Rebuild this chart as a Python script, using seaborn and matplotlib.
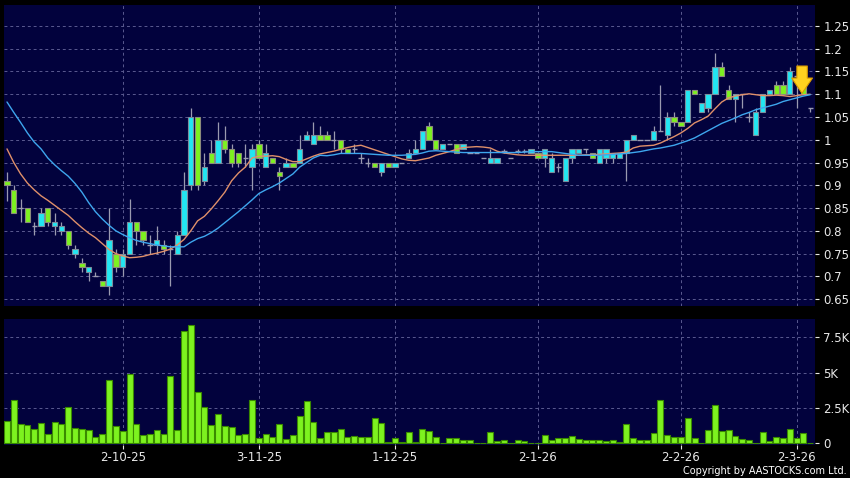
import numpy as np
import pandas as pd
import seaborn as sns
import matplotlib.pyplot as plt
import matplotlib.ticker as ticker

# daily OHLC (trading-day index 0 = first bar on the chart)
opens = [0.91,0.89,0.85,0.85,0.81,0.81,0.85,0.81,0.80,0.80,
         0.75,0.73,0.71,0.70,0.69,0.68,0.75,0.72,0.75,0.82,
         0.80,0.77,0.77,0.77,0.76,0.75,0.79,0.90,1.05,0.91,
         0.97,0.95,1.00,0.98,0.97,0.96,0.94,0.99,0.94,0.96,
         0.93,0.94,0.95,0.95,1.00,0.99,1.01,1.01,1.00,1.00,
         0.98,0.98,0.96,0.95,0.95,0.93,0.95,0.94,0.95,0.96,
         0.97,0.98,1.03,1.00,0.98,0.99,0.99,0.98,0.97,0.97,
         0.96,0.95,0.95,0.975,0.96,0.975,0.975,0.97,0.97,0.96,
         0.93,0.94,0.91,0.96,0.97,0.98,0.97,0.95,0.96,0.96,
         0.96,0.97,1.00,1.00,1.00,1.00,1.02,1.01,1.05,1.04,
         1.04,1.11,1.06,1.07,1.10,1.16,1.11,1.09,1.10,1.05,
         1.01,1.06,1.10,1.12,1.12,1.10,1.14,1.12,1.07]
highs = [0.93,0.90,0.87,0.85,0.82,0.85,0.85,0.84,0.82,0.80,
         0.77,0.74,0.72,0.71,0.69,0.85,0.76,0.76,0.87,0.82,
         0.80,0.79,0.81,0.78,0.77,0.80,0.93,1.07,1.05,0.97,
         1.00,1.04,1.03,0.99,0.97,0.99,0.99,1.00,0.99,0.96,
         0.94,0.96,0.95,1.01,1.02,1.04,1.03,1.02,1.02,1.00,
         0.98,0.99,0.97,0.96,0.95,0.95,0.95,0.95,0.95,0.98,
         1.00,1.02,1.04,1.00,0.99,0.99,0.99,0.99,0.97,0.97,
         0.96,0.98,0.96,0.98,0.96,0.98,0.98,0.98,0.97,0.98,
         0.97,0.95,0.96,0.98,0.98,0.98,0.97,0.98,0.98,0.97,
         0.97,1.00,1.01,1.00,1.00,1.03,1.12,1.06,1.06,1.04,
         1.11,1.11,1.08,1.10,1.19,1.17,1.12,1.10,1.10,1.06,
         1.07,1.10,1.11,1.13,1.13,1.16,1.14,1.12,1.07]
lows = [0.865,0.84,0.82,0.82,0.79,0.81,0.81,0.79,0.79,0.76,
        0.74,0.71,0.69,0.70,0.68,0.66,0.71,0.70,0.75,0.77,
        0.77,0.75,0.75,0.75,0.68,0.75,0.79,0.89,0.89,0.90,
        0.95,0.95,0.97,0.94,0.94,0.94,0.89,0.96,0.94,0.95,
        0.89,0.94,0.94,0.95,1.00,0.99,1.00,1.00,0.98,0.97,
        0.97,0.97,0.95,0.94,0.94,0.92,0.94,0.94,0.95,0.96,
        0.97,0.98,1.00,0.98,0.98,0.99,0.97,0.98,0.97,0.97,
        0.96,0.95,0.95,0.97,0.96,0.97,0.97,0.97,0.96,0.94,
        0.93,0.93,0.91,0.95,0.97,0.97,0.96,0.95,0.95,0.95,
        0.96,0.91,1.00,1.00,1.00,1.00,1.02,1.00,1.03,1.03,
        1.04,1.10,1.06,1.06,1.10,1.14,1.09,1.04,1.07,1.04,
        1.01,1.06,1.10,1.10,1.10,1.10,1.07,1.10,1.06]
closes = [0.90,0.84,0.85,0.82,0.81,0.84,0.82,0.82,0.81,0.77,
          0.76,0.72,0.72,0.70,0.68,0.78,0.72,0.75,0.82,0.80,
          0.78,0.77,0.78,0.76,0.76,0.79,0.89,1.05,0.90,0.94,
          0.95,1.00,0.98,0.95,0.95,0.96,0.98,0.96,0.97,0.95,
          0.92,0.95,0.94,0.98,1.01,1.01,1.00,1.00,1.00,0.98,
          0.97,0.98,0.96,0.95,0.94,0.95,0.94,0.95,0.95,0.97,
          0.98,1.02,1.00,0.98,0.99,0.99,0.97,0.99,0.97,0.97,
          0.96,0.96,0.96,0.975,0.96,0.975,0.975,0.98,0.96,0.98,
          0.96,0.94,0.96,0.98,0.98,0.98,0.96,0.98,0.98,0.97,
          0.97,1.00,1.01,1.00,1.00,1.02,1.02,1.05,1.04,1.03,
          1.11,1.10,1.08,1.10,1.16,1.14,1.09,1.10,1.10,1.05,
          1.06,1.10,1.11,1.10,1.10,1.15,1.14,1.10,1.07]

# moving averages as drawn (short = orange, long = blue)
ma_short = [0.98,0.95,0.925,0.905,0.89,0.877,0.867,0.856,0.845,0.834,
            0.82,0.807,0.795,0.785,0.772,0.759,0.75,0.745,0.741,0.742,
            0.744,0.748,0.751,0.755,0.76,0.769,0.781,0.80,0.822,0.832,
            0.848,0.866,0.885,0.91,0.927,0.94,0.96,0.964,0.964,0.965,
            0.963,0.957,0.952,0.952,0.958,0.964,0.969,0.972,0.975,0.979,
            0.983,0.986,0.988,0.983,0.978,0.973,0.968,0.963,0.958,0.955,
            0.954,0.957,0.96,0.966,0.97,0.974,0.979,0.983,0.984,0.985,
            0.984,0.982,0.975,0.971,0.969,0.967,0.966,0.966,0.966,0.966,
            0.966,0.966,0.966,0.966,0.966,0.967,0.967,0.968,0.969,0.97,
            0.971,0.973,0.982,0.986,0.987,0.988,0.993,1.0,1.007,1.015,
            1.025,1.037,1.044,1.052,1.068,1.083,1.092,1.096,1.099,1.101,
            1.099,1.097,1.097,1.098,1.097,1.095,1.097,1.099,1.10]
ma_long = [1.083,1.06,1.038,1.015,0.995,0.98,0.96,0.945,0.932,0.92,
           0.904,0.885,0.862,0.842,0.826,0.812,0.80,0.792,0.785,0.779,
           0.775,0.772,0.769,0.767,0.765,0.765,0.765,0.775,0.783,0.788,
           0.796,0.806,0.818,0.83,0.842,0.855,0.868,0.882,0.89,0.897,
           0.905,0.915,0.925,0.94,0.95,0.96,0.966,0.965,0.967,0.97,
           0.97,0.97,0.97,0.969,0.968,0.967,0.966,0.966,0.966,0.967,
           0.968,0.971,0.975,0.976,0.975,0.974,0.973,0.972,0.972,0.972,
           0.972,0.972,0.972,0.972,0.972,0.972,0.973,0.974,0.974,0.974,
           0.974,0.972,0.97,0.968,0.966,0.966,0.966,0.966,0.967,0.968,
           0.969,0.97,0.972,0.974,0.977,0.98,0.982,0.985,0.988,0.993,
           0.998,1.004,1.012,1.02,1.028,1.036,1.042,1.048,1.055,1.06,
           1.066,1.07,1.074,1.078,1.084,1.088,1.092,1.096,1.099]

# volume in thousands
volume = [1.55,3.1,1.37,1.32,1.0,1.46,0.66,1.49,1.39,2.55,
          1.06,1.04,0.94,0.45,0.64,4.46,1.2,0.85,4.9,1.37,
          0.61,0.64,0.97,0.64,4.79,0.97,7.95,8.37,3.66,2.59,
          1.3,2.05,1.23,1.16,0.57,0.66,3.09,0.4,0.64,0.45,
          1.39,0.31,0.61,1.93,2.97,1.49,0.38,0.78,0.78,0.99,
          0.42,0.52,0.45,0.45,1.79,1.42,0.07,0.35,0.09,0.83,
          0.12,1.01,0.85,0.45,0.05,0.35,0.4,0.2,0.25,0.05,
          0.05,0.8,0.15,0.25,0.05,0.25,0.15,0.05,0.02,0.6,
          0.2,0.35,0.4,0.55,0.3,0.25,0.2,0.2,0.15,0.2,
          0.1,1.4,0.35,0.25,0.25,0.7,3.05,0.6,0.45,0.45,
          1.8,0.4,0.05,0.95,2.7,0.85,0.95,0.55,0.3,0.25,
          0.05,0.8,0.15,0.45,0.35,1.0,0.4,0.7,0.02]

date_pos = [17, 37, 57, 78, 99, 116]
date_labels = ["2-10-25", "3-11-25", "1-12-25", "2-1-26", "2-2-26", "2-3-26"]
price_ticks = [0.65, 0.7, 0.75, 0.8, 0.85, 0.9, 0.95, 1.0, 1.05, 1.1, 1.15, 1.2, 1.25]
vol_ticks = [0, 2.5, 5, 7.5]
vol_labels = ["0", "2.5K", "5K", "7.5K"]

df = pd.DataFrame({"open": opens, "high": highs, "low": lows, "close": closes,
                   "ma_s": ma_short, "ma_l": ma_long, "vol": volume})
df["i"] = np.arange(len(df))

navy = "#02023d"
cyan = "#22e6f2"
green = "#7df21f"
gridc = "#5a5a90"

sns.set_style("dark", {"axes.facecolor": navy, "figure.facecolor": "black"})
plt.rcParams["font.family"] = ["DejaVu Sans"]

fig = plt.figure(figsize=(8.5, 4.78), dpi=100, facecolor="black")
axp = fig.add_axes([4/850, 1-306/478, 811/850, 301/478])
axv = fig.add_axes([4/850, 1-445/478, 811/850, 126/478])

# candles
up = df[df.close > df.open]
dn = df[df.close < df.open]
fl = df[df.close == df.open]
axp.vlines(df.i, df.low, df.high, color="#9a9ab0", lw=0.9, zorder=2)
axp.bar(up.i, up.close - up.open, bottom=up.open, width=0.78, color=cyan,
        edgecolor="#7c8c9c", lw=0.8, zorder=3)
axp.bar(dn.i, dn.open - dn.close, bottom=dn.close, width=0.78, color=green,
        edgecolor="#8c8c7c", lw=0.8, zorder=3)
axp.hlines(fl.open, fl.i - 0.39, fl.i + 0.39, color="#9a9ab0", lw=1.0, zorder=3)

sns.lineplot(data=df, x="i", y="ma_s", color="#e0906a", lw=1.0, ax=axp, zorder=4)
sns.lineplot(data=df, x="i", y="ma_l", color="#3ea6ee", lw=1.0, ax=axp, zorder=4)

# arrow on last bars
axp.annotate("", xy=(116.8, 1.102), xytext=(116.8, 1.162),
             arrowprops=dict(arrowstyle="simple,head_width=1.5,head_length=1.1,tail_width=0.75",
                             fc="#ffd21f", ec="#d99a00", lw=0.8, shrinkA=0, shrinkB=0),
             zorder=6)

axp.set_xlim(-0.44, 118.7)
axp.set_ylim(0.635, 1.296)
axp.set_yticks(price_ticks)
axp.yaxis.set_major_formatter(ticker.FuncFormatter(
    lambda v, p: f"{v:.2f}".rstrip("0").rstrip(".")))
axp.set_xticks(date_pos)
axp.set_xticklabels([])

# volume
sns.barplot(data=df, x="i", y="vol", color=green, saturation=1, width=0.88,
            edgecolor="#3a8a00", linewidth=0.8, ax=axv, zorder=3)
axv.set_xlim(-0.44, 118.7)
axv.set_ylim(-0.12, 8.8)
axv.set_yticks(vol_ticks)
axv.set_yticklabels(vol_labels)
axv.set_xticks(date_pos)
axv.set_xticklabels(date_labels)

for ax in (axp, axv):
    ax.set_xlabel("")
    ax.set_ylabel("")
    ax.yaxis.tick_right()
    for s in ax.spines.values():
        s.set_visible(False)
    ax.grid(True, color=gridc, lw=0.7, ls=(0, (3, 3)), zorder=0)
    ax.set_axisbelow(True)
    ax.tick_params(axis="y", colors="#e8e8e8", labelsize=8.5, length=3,
                   width=0.8, pad=3, right=True, left=False)
    ax.tick_params(axis="x", colors="#e8e8e8", labelsize=8.5, length=3,
                   width=0.8, pad=1, bottom=True)
axp.tick_params(axis="x", length=0)

fig.text(0.996, 0.004, "Copyright by AASTOCKS.com Ltd.", ha="right", va="bottom",
         color="white", fontsize=7.0)

fig.savefig("out.png", dpi=100, facecolor="black")
